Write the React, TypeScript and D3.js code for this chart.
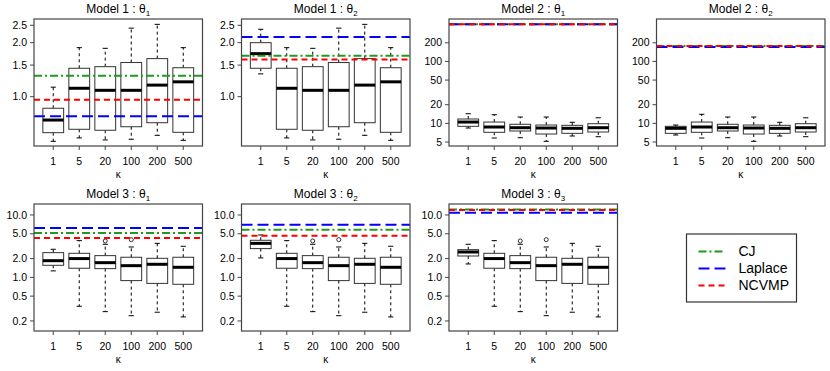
import React from 'react';
import * as d3 from 'd3';

const W = 830;
const H = 371;

const kappas = ['1', '5', '20', '100', '200', '500'];

// boxplot stats per kappa: [lower whisker, Q1, median, Q3, upper whisker]
const m1Theta1 = [
  [0.564, 0.63, 0.741, 0.862, 1.13],
  [0.589, 0.658, 1.114, 1.44, 1.876],
  [0.574, 0.65, 1.085, 1.47, 1.86],
  [0.579, 0.68, 1.085, 1.55, 2.41],
  [0.609, 0.716, 1.16, 1.63, 2.53],
  [0.571, 0.633, 1.21, 1.45, 1.876],
];
const m1Theta2 = [
  [1.34, 1.44, 1.737, 2.0, 2.375],
  [0.589, 0.658, 1.114, 1.44, 1.876],
  [0.574, 0.65, 1.085, 1.47, 1.86],
  [0.579, 0.68, 1.085, 1.55, 2.41],
  [0.609, 0.716, 1.16, 1.63, 2.53],
  [0.571, 0.633, 1.21, 1.45, 1.876],
];
const m2Theta1 = [
  [8.41, 8.96, 10.5, 11.76, 14.3],
  [5.8, 7.17, 8.73, 10.5, 13.8],
  [5.87, 7.53, 8.51, 9.66, 12.66],
  [5.13, 6.73, 8.41, 9.4, 12.66],
  [6.25, 6.9, 8.32, 9.3, 10.4],
  [6.09, 7.25, 8.51, 9.87, 12.3],
];
const m2Theta2 = [
  [6.49, 6.9, 8.32, 8.96, 9.4],
  [5.8, 7.17, 8.73, 10.5, 14.0],
  [5.87, 7.53, 8.51, 9.66, 12.66],
  [5.13, 6.73, 8.41, 9.4, 12.66],
  [6.25, 6.9, 8.32, 9.3, 10.4],
  [6.09, 7.25, 8.51, 9.87, 12.3],
];
const m3Theta1 = [
  [1.27, 1.56, 1.85, 2.49, 2.82],
  [0.344, 1.4, 2.0, 2.43, 3.88],
  [0.282, 1.38, 1.72, 2.23, 3.39],
  [0.243, 0.887, 1.54, 2.1, 3.07],
  [0.276, 0.8, 1.62, 2.02, 3.51],
  [0.232, 0.774, 1.45, 2.1, 3.15],
];
const m3Theta2 = [
  [2.05, 2.89, 3.51, 3.93, 4.78],
  [0.344, 1.4, 2.0, 2.43, 3.88],
  [0.282, 1.38, 1.72, 2.23, 3.39],
  [0.243, 0.887, 1.54, 2.1, 3.07],
  [0.276, 0.8, 1.62, 2.02, 3.51],
  [0.232, 0.774, 1.45, 2.1, 3.15],
];
const m3Theta3 = [
  [1.64, 2.2, 2.55, 2.78, 3.39],
  [0.344, 1.4, 2.0, 2.43, 3.88],
  [0.282, 1.38, 1.72, 2.23, 3.39],
  [0.243, 0.887, 1.54, 2.1, 3.07],
  [0.276, 0.8, 1.62, 2.02, 3.51],
  [0.232, 0.774, 1.45, 2.1, 3.15],
];
const m3Outliers = [[], [], [3.83], [4.02], [], []];

// reference estimates, one per panel
const cjValues = [1.31, 1.69, 398, 177, 5.15, 5.82, 12.3];
const laplaceValues = [0.777, 2.15, 398, 171, 6.19, 7.0, 10.9];
const ncvmpValues = [0.962, 1.61, 398, 177, 4.28, 4.66, 12.0];

// y axis limits and ticks per model
const m1Lim = [0.531, 2.71];
const m2Lim = [4.31, 484];
const m3Lim = [0.138, 15.0];
const m1Ticks = [1.0, 1.5, 2.0, 2.5];
const m2Ticks = [5, 10, 20, 50, 100, 200];
const m3Ticks = [0.2, 0.5, 1.0, 2.0, 5.0, 10.0];

const methods = [
  { name: 'CJ', values: cjValues, color: '#1f9a1f', dash: '8,3,2,3' },
  { name: 'Laplace', values: laplaceValues, color: '#0000ff', dash: '11,5' },
  { name: 'NCVMP', values: ncvmpValues, color: '#ff0000', dash: '6,4' },
];

const panels = [
  { model: 1, theta: 1, stats: m1Theta1, outliers: null, lim: m1Lim, ticks: m1Ticks, fmt: '.1f' },
  { model: 1, theta: 2, stats: m1Theta2, outliers: null, lim: m1Lim, ticks: m1Ticks, fmt: '.1f' },
  { model: 2, theta: 1, stats: m2Theta1, outliers: null, lim: m2Lim, ticks: m2Ticks, fmt: 'd' },
  { model: 2, theta: 2, stats: m2Theta2, outliers: null, lim: m2Lim, ticks: m2Ticks, fmt: 'd' },
  { model: 3, theta: 1, stats: m3Theta1, outliers: m3Outliers, lim: m3Lim, ticks: m3Ticks, fmt: '.1f' },
  { model: 3, theta: 2, stats: m3Theta2, outliers: m3Outliers, lim: m3Lim, ticks: m3Ticks, fmt: '.1f' },
  { model: 3, theta: 3, stats: m3Theta3, outliers: m3Outliers, lim: m3Lim, ticks: m3Ticks, fmt: '.1f' },
];

const FONT = '"Liberation Sans", Arial, Helvetica, sans-serif';
const colW = W / 4;
const rowH = 185;

function Panel({ p, i }: { p: any; i: number }) {
  const col = i % 4;
  const row = Math.floor(i / 4);
  const left = col * colW + 34;
  const right = col * colW + 202.5;
  const top = 19 + row * rowH;
  const bottom = 146 + row * rowH;

  const x = d3.scaleLinear().domain([0.26, kappas.length + 0.74]).range([left, right]);
  const y = d3.scaleLog().domain(p.lim).range([bottom, top]);
  const fmt = d3.format(p.fmt);
  const bw = x(1.4) - x(1);
  const cap = bw / 2;
  const cx = (left + right) / 2;

  return (
    <g>
      <text x={cx} y={top - 6} textAnchor="middle" fontSize={12} fill="#000">
        {`Model ${p.model} :  θ`}
        <tspan fontSize={8} dy={3}>{p.theta}</tspan>
      </text>
      {/* y axis */}
      {p.ticks.map((t: number) => (
        <g key={t}>
          <line x1={left - 4} x2={left} y1={y(t)} y2={y(t)} stroke="#444" />
          <text x={left - 7} y={y(t)} dy="0.35em" textAnchor="end" fontSize={10.5}>{fmt(t)}</text>
        </g>
      ))}
      {/* x axis */}
      {kappas.map((k, j) => (
        <g key={k}>
          <line x1={x(j + 1)} x2={x(j + 1)} y1={bottom} y2={bottom + 4} stroke="#444" />
          <text x={x(j + 1)} y={bottom + 15} dy="0.35em" textAnchor="middle" fontSize={10.5}>{k}</text>
        </g>
      ))}
      <text x={cx} y={bottom + 28} dy="0.35em" textAnchor="middle" fontSize={10}>κ</text>
      {/* boxes */}
      {p.stats.map((s: number[], j: number) => {
        const xc = x(j + 1);
        return (
          <g key={j}>
            <line x1={xc} x2={xc} y1={y(s[3])} y2={y(s[4])} stroke="#000" strokeDasharray="3,3" />
            <line x1={xc} x2={xc} y1={y(s[1])} y2={y(s[0])} stroke="#000" strokeDasharray="3,3" />
            <line x1={xc - cap / 2} x2={xc + cap / 2} y1={y(s[4])} y2={y(s[4])} stroke="#000" />
            <line x1={xc - cap / 2} x2={xc + cap / 2} y1={y(s[0])} y2={y(s[0])} stroke="#000" />
            <rect x={xc - bw} y={y(s[3])} width={bw * 2} height={y(s[1]) - y(s[3])} fill="#fff" stroke="#333" />
            <line x1={xc - bw} x2={xc + bw} y1={y(s[2])} y2={y(s[2])} stroke="#000" strokeWidth={3} />
            {p.outliers && p.outliers[j].map((o: number, k: number) => (
              <circle key={k} cx={xc} cy={y(o)} r={2} fill="none" stroke="#000" strokeWidth={0.8} />
            ))}
          </g>
        );
      })}
      {/* reference lines */}
      {methods.map(m => (
        <line key={m.name} x1={left} x2={right} y1={y(m.values[i])} y2={y(m.values[i])}
          stroke={m.color} strokeWidth={2} strokeDasharray={m.dash} />
      ))}
      <rect x={left} y={top} width={right - left} height={bottom - top} fill="none" stroke="#444" strokeWidth={1.2} />
    </g>
  );
}

function Legend() {
  const lx = 686.5;
  const ly = 234;
  return (
    <g>
      <rect x={lx} y={ly} width={110} height={68} fill="#fff" stroke="#333" strokeWidth={1.2} />
      {methods.map((m, i) => {
        const yy = ly + 17.5 + i * 17;
        return (
          <g key={m.name}>
            <line x1={lx + 12} x2={lx + 39} y1={yy} y2={yy} stroke={m.color} strokeWidth={2} strokeDasharray={m.dash} />
            <text x={lx + 52} y={yy} dy="0.35em" fontSize={14}>{m.name}</text>
          </g>
        );
      })}
    </g>
  );
}

export default function App() {
  return (
    <svg width={W} height={H} style={{ position: 'absolute', left: 0, top: 0, background: '#fff' }}
      fontFamily={FONT}>
      {panels.map((p, i) => <Panel key={i} p={p} i={i} />)}
      <Legend />
    </svg>
  );
}
